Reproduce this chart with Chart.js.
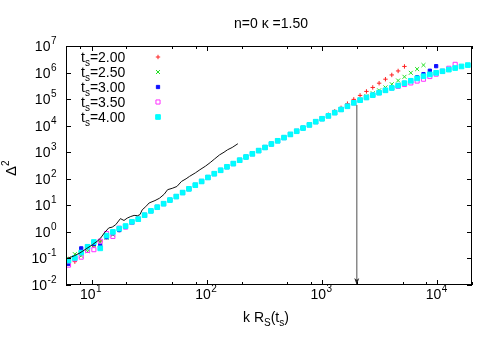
<!DOCTYPE html>
<html>
<head>
<meta charset="utf-8">
<script src="https://cdn.jsdelivr.net/npm/chart.js"></script>
<style>
  html, body { margin: 0; padding: 0; background: #fff; }
  #wrap { width: 500px; height: 350px; }
</style>
</head>
<body>
<div id="wrap"><canvas id="deltachart" width="500" height="350"></canvas></div>
<script>
// k R_S(t_s) values shared by all series
const kGrid = [6.31, 7.16, 8.13, 9.23, 10.47, 11.89, 13.49, 15.31, 17.38, 19.72,
  22.39, 25.41, 28.84, 32.73, 37.15, 42.17, 47.86, 54.33, 61.66, 69.98,
  79.43, 90.16, 102.3, 116.1, 131.8, 149.6, 169.8, 192.8, 218.8, 248.3,
  281.8, 319.9, 363.1, 412.1, 467.7, 530.9, 602.6, 683.9, 776.2, 881.0,
  1000, 1135, 1288, 1462, 1660, 1884, 2138, 2427, 2754, 3126,
  3548, 4027, 4571, 5188, 5888, 6683, 7586, 8610, 9772, 11092,
  12589, 14289, 16218, 18408];

// Delta^2 for each t_s
const ts200 = [0.0955, 0.0759, 0.158, 0.251, 0.302, 0.447, 0.631, 0.912, 1.17, 1.55,
  2.19, 3.02, 4.27, 6.17, 8.51, 11.5, 15.8, 21.4, 30.2, 41.7,
  57.5, 79.4, 112, 155, 209, 282, 372, 501, 661, 871,
  1150, 1510, 2040, 2690, 3550, 4680, 6170, 8130, 10700, 14100,
  19100, 25700, 34700, 46800, 67600, 97700, 138000, 195000, 275000, 398000,
  562000, 813000, 1150000, 1700000];
const ts250 = [0.100, 0.145, 0.126, 0.186, 0.316, 0.417, 0.603, 0.794, 1.17, 1.55,
  2.19, 3.02, 4.27, 6.17, 8.51, 11.5, 15.8, 21.4, 30.2, 41.7,
  57.5, 79.4, 112, 155, 209, 282, 372, 501, 661, 871,
  1150, 1510, 2040, 2690, 3550, 4680, 6170, 8130, 10700, 14100,
  18200, 23400, 30900, 40700, 55000, 74100, 97700, 129000, 166000, 214000,
  275000, 363000, 501000, 692000, 977000, 1350000, 1910000];
const ts300 = [0.0631, 0.112, 0.240, 0.282, 0.355, 0.302, 0.631, 0.891, 1.17, 1.55,
  2.19, 3.02, 4.27, 6.17, 8.51, 11.5, 15.8, 21.4, 30.2, 41.7,
  57.5, 79.4, 112, 155, 209, 282, 372, 501, 661, 871,
  1150, 1510, 2040, 2690, 3550, 4680, 6170, 8130, 10700, 14100,
  18200, 23400, 30900, 40700, 53700, 72400, 91200, 115000, 141000, 174000,
  214000, 263000, 331000, 407000, 513000, 661000, 871000, 1170000, 1740000];
const ts350 = [0.0562, 0.0955, 0.112, 0.200, 0.214, 0.447, 0.871, 0.676, 1.38, 1.51,
  2.29, 3.02, 4.27, 6.17, 8.51, 11.5, 15.8, 21.4, 30.2, 41.7,
  57.5, 79.4, 112, 155, 209, 282, 372, 501, 661, 871,
  1150, 1510, 2040, 2690, 3550, 4680, 6170, 8130, 10700, 14100,
  18200, 23400, 30900, 40700, 53700, 72400, 91200, 115000, 141000, 174000,
  214000, 263000, 302000, 355000, 407000, 479000, 562000, 708000, 871000, 1120000,
  1450000, 2040000];
const ts400 = [0.0832, 0.105, 0.166, 0.275, 0.417, 0.240, 0.724, 1.00, 1.32, 1.66,
  2.40, 3.02, 4.27, 6.17, 8.51, 11.5, 15.8, 21.4, 30.2, 41.7,
  57.5, 79.4, 112, 155, 209, 282, 372, 501, 661, 871,
  1150, 1510, 2040, 2690, 3550, 4680, 6170, 8130, 10700, 14100,
  18200, 23400, 30900, 40700, 53700, 72400, 91200, 115000, 141000, 174000,
  214000, 263000, 324000, 398000, 490000, 603000, 724000, 851000, 977000, 1120000,
  1290000, 1480000, 1700000, 1910000];

// black reference curve
const refK = [6.03, 7.08, 7.94, 9.12, 10.2, 11.2, 12.0, 12.9, 14.1, 15.1,
  16.2, 17.8, 19.1, 20.4, 21.9, 23.4, 25.1, 26.3, 27.5, 29.5,
  31.6, 35.5, 38.9, 42.7, 45.7, 50.1, 55.0, 60.3, 66.1, 70.8,
  79.4, 87.1, 97.7, 107, 117, 129, 141, 151, 166, 186];
const refDelta = [0.0955, 0.126, 0.162, 0.240, 0.331, 0.447, 0.589, 0.912, 1.41, 1.51,
  1.86, 3.16, 2.69, 3.31, 3.80, 4.17, 4.07, 4.47, 6.76, 8.91,
  12.3, 15.1, 18.6, 26.3, 38.9, 43.7, 51.3, 79.4, 100, 123,
  166, 219, 302, 407, 562, 794, 1000, 1230, 1510, 2090];

// arrow marking k R_S = 2000
const arrowK = [2000, 2000];
const arrowDelta = [60000, 0.01];

const seriesLabels = ["2.00", "2.50", "3.00", "3.50", "4.00"];
const xMajor = [10, 100, 1000, 10000];
const xMinor = [8, 20, 50, 80, 200, 500, 800, 2000, 5000, 8000, 20000];
const yMajor = [0.01, 0.1, 1, 10, 100, 1000, 10000, 100000, 1000000, 10000000];

const FONT = "'Liberation Sans', Arial, sans-serif";

function toPoints(xs, ys) {
  return ys.map((y, i) => ({ x: xs[i], y: y }));
}

const markers = [
  { data: ts200, color: "#ff2020", style: "cross", radius: 2.2, fill: true },
  { data: ts250, color: "#20e020", style: "crossRot", radius: 2.8, fill: true },
  { data: ts300, color: "#1010ff", style: "rect", radius: 2.3, fill: true },
  { data: ts350, color: "#ff30ff", style: "rect", radius: 2.9, fill: false },
  { data: ts400, color: "#00ffff", style: "rect", radius: 3.3, fill: true }
];

const datasets = markers.map((m, i) => ({
  label: "ts=" + seriesLabels[i],
  data: toPoints(kGrid, m.data),
  showLine: false,
  pointStyle: m.style,
  pointRadius: m.radius,
  pointBorderWidth: 1,
  pointBorderColor: m.color,
  pointBackgroundColor: m.fill ? m.color : "rgba(0,0,0,0)",
  order: 5 - i
}));

datasets.push({
  label: "ref",
  data: toPoints(refK, refDelta),
  showLine: true,
  borderColor: "#111",
  borderWidth: 1,
  pointRadius: 0,
  order: 0
});

datasets.push({
  label: "arrow",
  data: toPoints(arrowK, arrowDelta),
  showLine: true,
  borderColor: "#8a8a8a",
  borderWidth: 1.5,
  pointRadius: 0,
  order: -1
});

// draw "base^exp" pieces
function drawPow(ctx, x, y, exp, align) {
  ctx.font = "14px " + FONT;
  const wb = ctx.measureText("10").width;
  ctx.font = "10px " + FONT;
  const we = ctx.measureText(exp).width;
  let x0 = x;
  if (align === "right") x0 = x - wb - we;
  if (align === "center") x0 = x - (wb + we) / 2;
  ctx.font = "14px " + FONT;
  ctx.fillText("10", x0, y);
  ctx.font = "10px " + FONT;
  ctx.fillText(exp, x0 + wb + 0.5, y - 7);
}

// draw a run of [text, size, dy]
function drawRun(ctx, x, y, parts) {
  let cx = x;
  parts.forEach((p) => {
    ctx.font = p[1] + "px " + FONT;
    ctx.fillText(p[0], cx, y + p[2]);
    cx += ctx.measureText(p[0]).width;
  });
  return cx;
}

function legendMarker(ctx, m, x, y) {
  ctx.save();
  ctx.strokeStyle = m.color;
  ctx.fillStyle = m.color;
  ctx.lineWidth = 1;
  ctx.beginPath();
  if (m.style === "cross") {
    ctx.moveTo(x - m.radius, y); ctx.lineTo(x + m.radius, y);
    ctx.moveTo(x, y - m.radius); ctx.lineTo(x, y + m.radius);
    ctx.stroke();
  } else if (m.style === "crossRot") {
    const d = m.radius * Math.SQRT1_2;
    ctx.moveTo(x - d, y - d); ctx.lineTo(x + d, y + d);
    ctx.moveTo(x - d, y + d); ctx.lineTo(x + d, y - d);
    ctx.stroke();
  } else {
    const s = m.radius * Math.SQRT1_2;
    ctx.rect(x - s, y - s, 2 * s, 2 * s);
    if (m.fill) ctx.fill();
    ctx.stroke();
  }
  ctx.restore();
}

const decorPlugin = {
  id: "decor",
  afterDatasetsDraw(chart) {
    const ctx = chart.ctx;
    const xs = chart.scales.x;
    const ys = chart.scales.y;
    const a = chart.chartArea;

    ctx.save();
    // arrow head
    const ax = xs.getPixelForValue(arrowK[1]);
    const ay = ys.getPixelForValue(arrowDelta[1]);
    ctx.fillStyle = "#222";
    ctx.beginPath();
    ctx.moveTo(ax, ay);
    ctx.lineTo(ax - 2.5, ay - 7);
    ctx.lineTo(ax, ay - 5);
    ctx.lineTo(ax + 2.5, ay - 7);
    ctx.closePath();
    ctx.fill();

    // frame
    ctx.strokeStyle = "#000";
    ctx.lineWidth = 1;
    ctx.strokeRect(a.left + 0.5, a.top + 0.5, a.right - a.left - 1, a.bottom - a.top - 1);

    // ticks
    ctx.beginPath();
    xMajor.forEach((v) => {
      const px = Math.round(xs.getPixelForValue(v)) + 0.5;
      ctx.moveTo(px, a.bottom); ctx.lineTo(px, a.bottom - 5);
      ctx.moveTo(px, a.top); ctx.lineTo(px, a.top + 5);
    });
    xMinor.forEach((v) => {
      const px = Math.round(xs.getPixelForValue(v)) + 0.5;
      ctx.moveTo(px, a.bottom); ctx.lineTo(px, a.bottom - 3);
      ctx.moveTo(px, a.top); ctx.lineTo(px, a.top + 3);
    });
    yMajor.forEach((v) => {
      const py = Math.round(ys.getPixelForValue(v)) + 0.5;
      ctx.moveTo(a.left, py); ctx.lineTo(a.left + 5, py);
      ctx.moveTo(a.right, py); ctx.lineTo(a.right - 5, py);
    });
    ctx.stroke();

    // tick labels
    ctx.fillStyle = "#000";
    ctx.textAlign = "left";
    ctx.textBaseline = "alphabetic";
    xMajor.forEach((v) => {
      const px = xs.getPixelForValue(v);
      drawPow(ctx, px - 1, a.bottom + 14, String(Math.round(Math.log10(v))), "center");
    });
    yMajor.forEach((v) => {
      const py = ys.getPixelForValue(v);
      drawPow(ctx, a.left - 10, py + 5, String(Math.round(Math.log10(v))), "right");
    });

    // title
    ctx.font = "14px " + FONT;
    const title = "n=0 \u03ba =1.50";
    const tw = ctx.measureText(title).width;
    ctx.fillText(title, (a.left + a.right) / 2 + 2 - tw / 2, 28);

    // x axis label
    drawRun(ctx, 243, 322, [["k R", 14, 0], ["S", 10, 4], ["(t", 14, 0], ["s", 10, 4], [")", 14, 0]]);

    // y axis label
    ctx.save();
    ctx.translate(16, 176);
    ctx.rotate(-Math.PI / 2);
    drawRun(ctx, 0, 0, [["\u0394", 15, 0], ["2", 10, -7]]);
    ctx.restore();

    // legend
    markers.forEach((m, i) => {
      const cy = 57 + i * 15;
      drawRun(ctx, 81, cy + 5, [["t", 14, 0], ["s", 10, 4], ["=" + seriesLabels[i], 14, 0]]);
      legendMarker(ctx, m, 158, cy);
    });
    ctx.restore();
  }
};

new Chart(document.getElementById("deltachart").getContext("2d"), {
  type: "scatter",
  data: { datasets: datasets },
  options: {
    responsive: false,
    animation: false,
    layout: { padding: { left: 66, right: 28, top: 46, bottom: 65 } },
    plugins: { legend: { display: false }, tooltip: { enabled: false }, title: { display: false } },
    scales: {
      x: { type: "logarithmic", min: 6, max: 20000, display: false },
      y: { type: "logarithmic", min: 0.01, max: 10000000, display: false }
    }
  },
  plugins: [decorPlugin]
});
</script>
</body>
</html>
